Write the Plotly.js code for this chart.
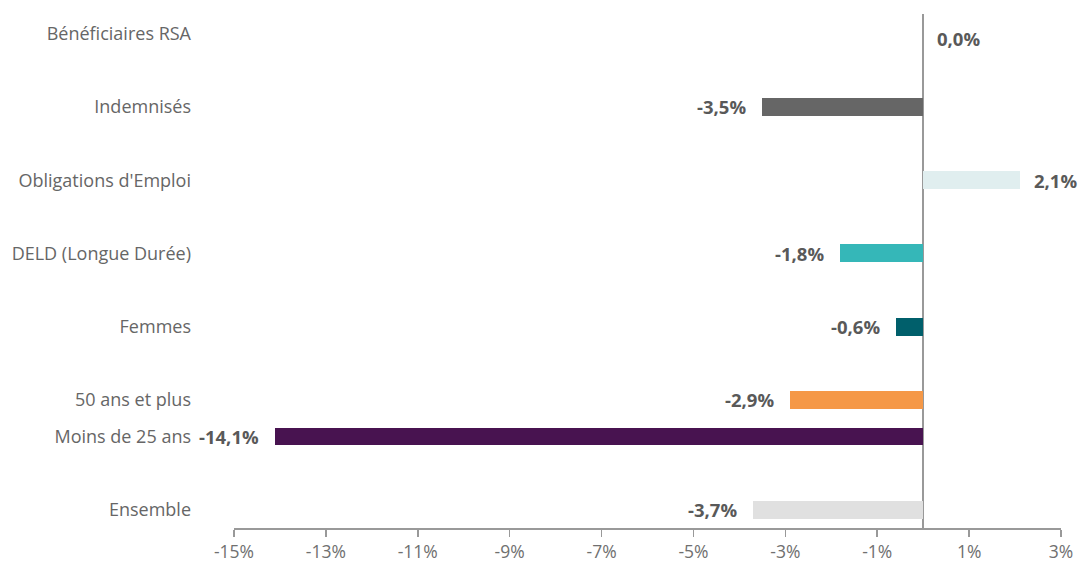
<!DOCTYPE html>
<html><head><meta charset="utf-8">
<script src="https://cdn.plot.ly/plotly-3.0.1.min.js"></script>
<style>html,body{margin:0;padding:0;background:#fff}#chart{width:1079px;height:561px}</style>
</head><body><div id="chart"></div>
<script>
const categories = ["Ensemble","Moins de 25 ans","50 ans et plus","Femmes","DELD (Longue Durée)","Obligations d'Emploi","Indemnisés","Bénéficiaires RSA"];
const rowPositions = [0, 1, 1.5, 2.5, 3.5, 4.5, 5.5, 6.5];
const values = [-3.7, -14.1, -2.9, -0.6, -1.8, 2.1, -3.5, 0.0];
const barColors = ["#e0e0e0","#481350","#f59847","#005f6b","#35b7b8","#e0eeef","#666666","#999999"];
const xTickVals = [-15,-13,-11,-9,-7,-5,-3,-1,1,3];
const xTickText = xTickVals.map(v => v + "%");

const fmt = v => v.toFixed(1).replace(".", ",") + "%";
const FONT = "Open Sans, Noto Sans, sans-serif";

const trace = {
  type: "bar", orientation: "h",
  x: values, y: rowPositions,
  width: 0.245,
  marker: {color: barColors},
  hoverinfo: "none"
};

const annotations = values.map((v, i) => ({
  x: v, y: rowPositions[i], xref: "x", yref: "y",
  text: "<b>" + fmt(v) + "</b>",
  showarrow: false,
  xanchor: v < 0 ? "right" : "left",
  xshift: v < 0 ? -14 : 12,
  yshift: v === 0 ? -5 : 0,
  font: {family: FONT, size: 18.5, color: "#595959"}
}));

const layout = {
  width: 1079, height: 561,
  margin: {l: 234, r: 18, t: 14, b: 33},
  paper_bgcolor: "#ffffff", plot_bgcolor: "#ffffff",
  showlegend: false,
  bargap: 0,
  xaxis: {
    range: [-15, 3], tickvals: xTickVals, ticktext: xTickText,
    showgrid: false, zeroline: true, zerolinecolor: "#999999", zerolinewidth: 2,
    showline: true, linecolor: "#999999", linewidth: 1.5,
    ticks: "outside", ticklen: 7, tickcolor: "#999999", tickwidth: 1.5,
    tickfont: {family: FONT, size: 17.5, color: "#707070"}, fixedrange: true
  },
  yaxis: {
    range: [-0.25, 6.77], tickvals: rowPositions, ticktext: categories,
    showgrid: false, zeroline: false, showline: false, ticks: "",
    ticklabelstandoff: 42,
    tickfont: {family: FONT, size: 18, color: "#666666"}, fixedrange: true
  },
  annotations: annotations
};

Plotly.newPlot("chart", [trace], layout, {staticPlot: true, displayModeBar: false});
</script></body></html>
